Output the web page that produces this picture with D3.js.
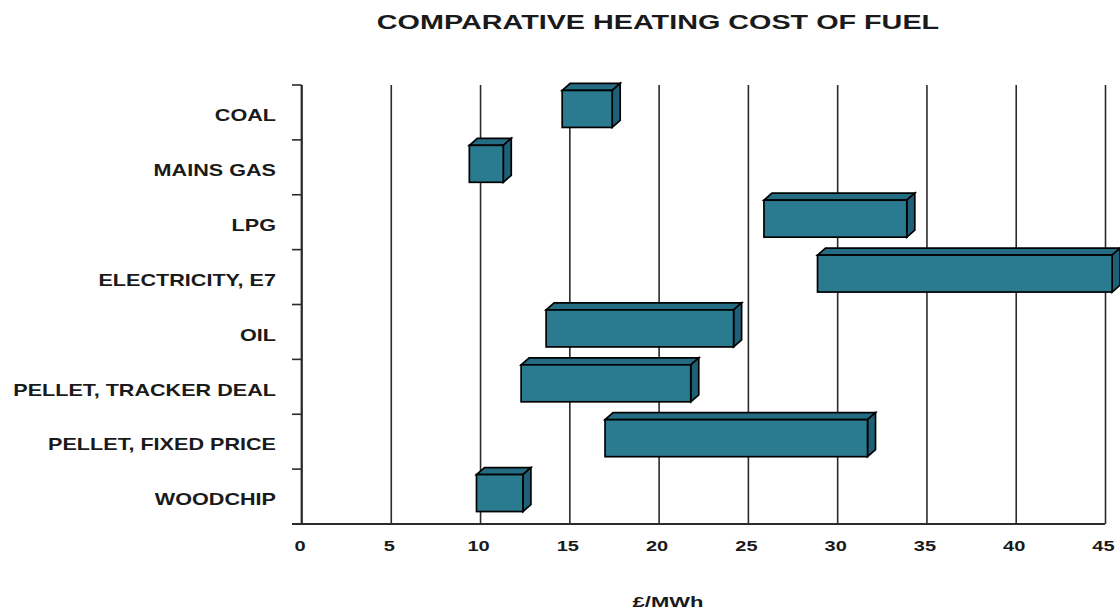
<!DOCTYPE html>
<html>
<head>
<meta charset="utf-8">
<script src="https://cdn.jsdelivr.net/npm/d3@7"></script>
<style>
  html, body { margin: 0; padding: 0; background: #fff; }
  svg { display: block; }
  text { font-family: "Liberation Sans", Arial, sans-serif; font-weight: bold; fill: #1a1a1a; }
</style>
</head>
<body>
<svg id="chart" width="1120" height="612"></svg>
<script>
// Fuel types, top to bottom
const categories = [
  "COAL",
  "MAINS GAS",
  "LPG",
  "ELECTRICITY, E7",
  "OIL",
  "PELLET, TRACKER DEAL",
  "PELLET, FIXED PRICE",
  "WOODCHIP"
];
// Cost range per fuel, £/MWh
const lowCost  = [14.6,  9.4, 25.9, 28.9, 13.7, 12.3, 17.0,  9.8];
const highCost = [17.4, 11.3, 33.9, 45.4, 24.2, 21.8, 31.7, 12.4];
const xTicks = [0, 5, 10, 15, 20, 25, 30, 35, 40, 45];

(function drawChart() {
  const svg = d3.select("#chart");
  const plotLeft = 301.5, plotRight = 1105, plotTop = 85, plotBottom = 524;
  const depthX = 8, depthY = 7;

  const faceColor = "#2a7a90";
  const topColor  = "#246c84";
  const sideColor = "#1f6079";
  const lineColor = "#2b2b2b";

  const x = d3.scaleLinear().domain([0, 45]).range([plotLeft, plotRight]);
  const y = d3.scaleBand()
    .domain(categories)
    .range([plotTop, plotBottom])
    .paddingInner(0.326)
    .paddingOuter(0.163);

  // Title
  svg.append("text")
    .attr("transform", `translate(658,28.5) scale(1.37,1)`)
    .attr("text-anchor", "middle")
    .style("font-size", "21px")
    .text("COMPARATIVE HEATING COST OF FUEL");

  // X axis with full-height gridlines
  const xAxis = d3.axisBottom(x)
    .tickValues(xTicks)
    .tickSize(-(plotBottom - plotTop))
    .tickSizeOuter(0)
    .tickFormat(d3.format("d"));

  const gx = svg.append("g")
    .attr("transform", `translate(0,${plotBottom})`)
    .call(xAxis);
  gx.select(".domain").remove();
  gx.selectAll(".tick line")
    .attr("stroke", lineColor)
    .attr("stroke-width", 1.6);
  gx.selectAll(".tick text")
    .attr("y", null)
    .attr("dy", null)
    .attr("transform", `translate(-2,27) scale(1.38,1)`)
    .style("font-size", "14.5px")
    .style("fill", "#1a1a1a");

  // Y axis labels
  const yAxis = d3.axisLeft(y).tickSize(0).tickPadding(0);
  const gy = svg.append("g")
    .attr("transform", `translate(${plotLeft},0)`)
    .call(yAxis);
  gy.select(".domain").remove();
  gy.selectAll(".tick text")
    .attr("x", null)
    .attr("dy", null)
    .attr("transform", `translate(-25.5,8.8) scale(1.35,1)`)
    .attr("text-anchor", "end")
    .style("font-size", "16px")
    .style("fill", "#1a1a1a");

  // Category boundary ticks on the left axis
  const boundaries = d3.range(categories.length + 1).map(i => plotTop + i * y.step());
  svg.append("g").selectAll("line")
    .data(boundaries)
    .join("line")
    .attr("x1", plotLeft - 9.5).attr("x2", plotLeft)
    .attr("y1", d => d).attr("y2", d => d)
    .attr("stroke", lineColor)
    .attr("stroke-width", 1.6);

  // Axis lines
  svg.append("line")
    .attr("x1", plotLeft).attr("x2", plotLeft)
    .attr("y1", plotTop).attr("y2", plotBottom)
    .attr("stroke", lineColor).attr("stroke-width", 1.8);
  svg.append("line")
    .attr("x1", plotLeft - 9.5).attr("x2", plotRight)
    .attr("y1", plotBottom).attr("y2", plotBottom)
    .attr("stroke", lineColor).attr("stroke-width", 2);

  // 3D range bars
  const bars = categories.map((c, i) => ({ c, lo: lowCost[i], hi: highCost[i] }));
  const shift = -depthY / 2;
  const gb = svg.append("g")
    .attr("stroke", "#000")
    .attr("stroke-width", 1.7)
    .attr("stroke-linejoin", "miter");

  const bar = gb.selectAll("g.bar").data(bars).join("g").attr("class", "bar");

  bar.append("path")
    .attr("fill", topColor)
    .attr("d", d => {
      const x0 = x(d.lo), x1 = x(d.hi), yT = y(d.c) + shift;
      return `M${x0},${yT}L${x0 + depthX},${yT - depthY}L${x1 + depthX},${yT - depthY}L${x1},${yT}Z`;
    });

  bar.append("path")
    .attr("fill", sideColor)
    .attr("d", d => {
      const x1 = x(d.hi), yT = y(d.c) + shift, yB = yT + y.bandwidth();
      return `M${x1},${yT}L${x1 + depthX},${yT - depthY}L${x1 + depthX},${yB - depthY}L${x1},${yB}Z`;
    });

  bar.append("rect")
    .attr("fill", faceColor)
    .attr("x", d => x(d.lo))
    .attr("y", d => y(d.c) + shift)
    .attr("width", d => x(d.hi) - x(d.lo))
    .attr("height", y.bandwidth());

  // X axis title
  svg.append("text")
    .attr("transform", `translate(668,606.5) scale(1.42,1)`)
    .attr("text-anchor", "middle")
    .style("font-size", "15.5px")
    .text("£/MWh");
})();
</script>
</body>
</html>
